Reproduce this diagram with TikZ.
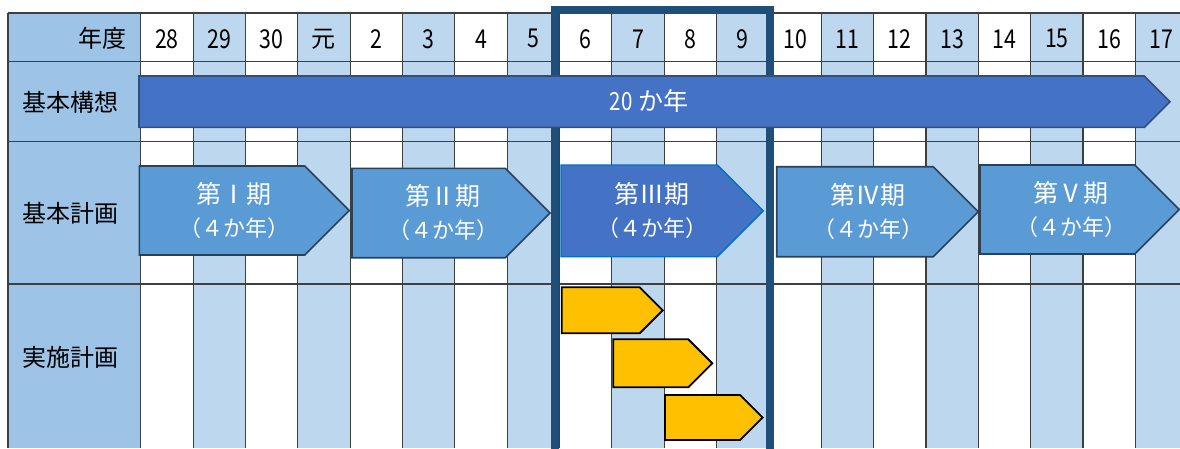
\documentclass[tikz,border=0pt]{standalone}
\usepackage{fontspec}
\usepackage{graphicx}
\setmainfont{Noto Sans CJK JP}
\usetikzlibrary{calc}

\definecolor{headblue}{HTML}{9DC3E6}
\definecolor{colblue}{HTML}{BDD7EE}
\definecolor{barblue}{HTML}{4472C4}
\definecolor{barline}{HTML}{2F4F7F}
\definecolor{phaseblue}{HTML}{5B9BD5}
\definecolor{phaseline}{HTML}{28415C}
\definecolor{nowline}{HTML}{0070C0}
\definecolor{framenavy}{HTML}{1F4E79}
\definecolor{gridgray}{HTML}{3F3F3F}
\definecolor{planyellow}{HTML}{FFC000}

% arrow box: left, top, tip, bottom (y counted downwards)
\newcommand{\pentarrow}[5][]{\draw[#1] (#2,#3) -- ({#4-(#5-#3)/2},#3) -- (#4,{(#3+#5)/2}) -- ({#4-(#5-#3)/2},#5) -- (#2,#5) -- cycle}
\newcommand{\narrownum}[1]{\scalebox{0.82}[1]{#1}}
\newcommand{\termlabel}[1]{{\fontsize{25}{33}\selectfont 第\makebox[1em]{#1}期}\\[7pt]（４か年）}

\begin{document}
\begin{tikzpicture}
[
x=1pt, y=-1pt,
grid/.style      = {draw=gridgray, line width=1.1pt},
yearlabel/.style = {inner sep=0, font=\fontsize{26}{26}\selectfont},
rowlabel/.style  = {inner sep=0, font=\fontsize{24}{24}\selectfont},
bigbar/.style    = {fill=barblue, draw=barline, line width=1.6pt, line join=miter},
phase/.style     = {fill=phaseblue, draw=phaseline, line width=1.6pt, line join=miter},
nowphase/.style  = {fill=barblue, draw=nowline, line width=1.4pt, line join=miter},
yellowbox/.style = {fill=planyellow, draw=black, line width=1.8pt, line join=miter},
phasetext/.style = {text=white, align=center, inner sep=0, font=\fontsize{22}{26}\selectfont},
]
\useasboundingbox (0,0) rectangle (1180,448);
\def\cw{52.35}
\def\xo{140.7}

% background of the table
\fill[headblue] (8,13) rectangle (\xo,448);
\foreach \i in {1,3,...,19}
  \fill[colblue] ({\xo+\i*\cw},13) rectangle ({\xo+(\i+1)*\cw},448);

% grid
\foreach \i in {0,...,20}
  \draw[grid] ({\xo+\i*\cw},13) -- ({\xo+\i*\cw},448);
\draw[grid] (8,13) -- (8,448);
\foreach \y in {13,61.7,141.7,284}
  \draw[grid] (8,\y) -- (1180,\y);

% header
\node[rowlabel, anchor=east] (nendo) at (127,38) {年度};
\foreach \lab [count=\i from 0] in {28,29,30,元,2,3,4,5,6,7,8,9,10,11,12,13,14,15,16,17}
  \node[yearlabel] (y\i) at ({\xo+(\i+0.5)*\cw},38.8) {\ifnum\i=3 \fontsize{24}{24}\selectfont\lab\else\narrownum{\lab}\fi};

\node[rowlabel] (kousou) at (71,102) {基本構想};
\node[rowlabel] (keikaku) at (71,213) {基本計画};
\node[rowlabel] (jisshi) at (71,357) {実施計画};

% current term
\draw[framenavy, line width=8pt] (554.7,9.5) rectangle (770,470);

\pentarrow[bigbar]{139}{76}{1170}{127.3};
\node[text=white, inner sep=0, font=\fontsize{25}{25}\selectfont] (span) at (649,101) {\narrownum{20} か年};

\pentarrow[phase]{139.3}{166}{349.3}{255};
\pentarrow[phase]{352}{168.3}{550}{257.7};
\pentarrow[nowphase]{561}{165}{763.3}{256.7};
\pentarrow[phase]{776.7}{166.7}{978.3}{256.7};
\pentarrow[phase]{980}{165}{1179.3}{254};

\node[phasetext] (term1) at (234,210.5) {\termlabel{Ⅰ}};
\node[phasetext] (term2) at (443,212) {\termlabel{Ⅱ}};
\node[phasetext] (term3) at (652,210) {\termlabel{Ⅲ}};
\node[phasetext] (term4) at (868,211) {\termlabel{Ⅳ}};
\node[phasetext] (term5) at (1071,209) {\termlabel{Ⅴ}};

\pentarrow[yellowbox]{561.7}{287.3}{662.7}{333.3};
\pentarrow[yellowbox]{613.3}{339.3}{712.3}{387.3};
\pentarrow[yellowbox]{665}{395}{762.7}{440};
\end{tikzpicture}
\end{document}
